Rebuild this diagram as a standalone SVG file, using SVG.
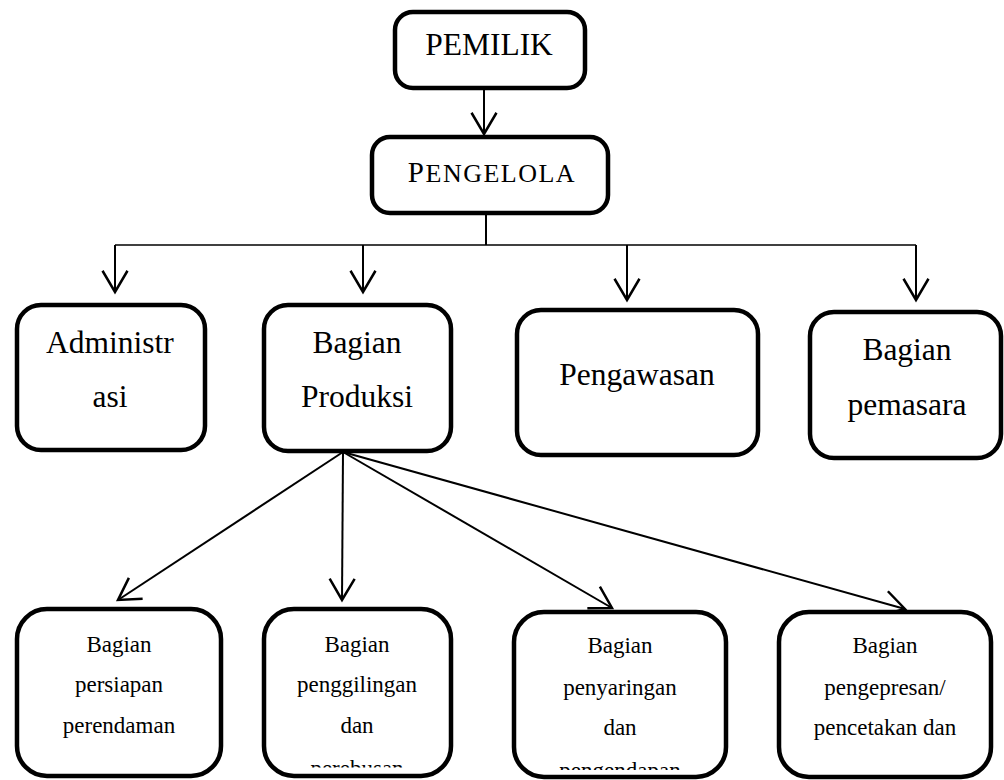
<svg xmlns="http://www.w3.org/2000/svg" width="1004" height="780" viewBox="0 0 1004 780">
<style>
.box{fill:#fff;stroke:#000;stroke-width:4.5}
.t{font-family:"Liberation Serif","Times New Roman",Times,serif;fill:#000;text-anchor:middle}
.big{font-size:31.5px}
.small{font-size:23px}
.ln{fill:none;stroke:#000;stroke-width:2}
</style>
<defs>
<marker id="arr" markerUnits="userSpaceOnUse" markerWidth="30" markerHeight="30" viewBox="-20 -12 22 24" refX="0" refY="0" orient="auto">
<path d="M-17,-10 L0,0 L-17,10" fill="none" stroke="#000" stroke-width="2"/>
</marker>
<clipPath id="c2"><rect x="264" y="609" width="187" height="158.5"/></clipPath>
<clipPath id="c3"><rect x="514" y="612" width="212" height="158"/></clipPath>
</defs>
<rect width="1004" height="780" fill="#fff"/>
<g id="connectors">
<line class="ln" x1="484" y1="90" x2="484" y2="134" marker-end="url(#arr)"/>
<polyline class="ln" points="486,215 486,245"/>
<line class="ln" x1="115" y1="245" x2="916" y2="245" style="stroke-width:1.6"/>
<line class="ln" x1="115" y1="245" x2="115" y2="292" marker-end="url(#arr)"/>
<line class="ln" x1="363" y1="245" x2="363" y2="292" marker-end="url(#arr)"/>
<line class="ln" x1="627" y1="245" x2="627" y2="300" marker-end="url(#arr)"/>
<line class="ln" x1="916" y1="245" x2="916" y2="300" marker-end="url(#arr)"/>
<line class="ln" x1="343" y1="452" x2="118" y2="600" marker-end="url(#arr)"/>
<line class="ln" x1="343" y1="452" x2="342" y2="600" marker-end="url(#arr)"/>
<line class="ln" x1="343" y1="452" x2="612" y2="608" marker-end="url(#arr)"/>
<line class="ln" x1="343" y1="452" x2="905" y2="609" marker-end="url(#arr)"/>
</g>
<g id="pemilik">
<rect class="box" x="395" y="12" width="190" height="76" rx="18"/>
<text class="t big" x="489" y="55">PEMILIK</text>
</g>
<g id="pengelola">
<rect class="box" x="372" y="137" width="236" height="76" rx="18"/>
<text class="t" x="492" y="182" style="font-size:26px;letter-spacing:1.5px"><tspan style="font-size:29px">P</tspan>ENGELOLA</text>
</g>
<g id="administrasi">
<rect class="box" x="17" y="305" width="188" height="145" rx="24"/>
<text class="t big" x="110" y="353">Administr</text>
<text class="t big" x="110" y="407">asi</text>
</g>
<g id="produksi">
<rect class="box" x="264" y="305" width="187" height="146" rx="24"/>
<text class="t big" x="357" y="353">Bagian</text>
<text class="t big" x="357" y="407">Produksi</text>
</g>
<g id="pengawasan">
<rect class="box" x="517" y="310" width="241" height="145" rx="24"/>
<text class="t big" x="637" y="385">Pengawasan</text>
</g>
<g id="pemasaran">
<rect class="box" x="810" y="312" width="191" height="146" rx="24"/>
<text class="t big" x="907" y="360">Bagian</text>
<text class="t big" x="907" y="415">pemasara</text>
</g>
<g id="persiapan">
<rect class="box" x="17" y="609" width="204" height="167" rx="30"/>
<text class="t small" x="119" y="652">Bagian</text>
<text class="t small" x="119" y="692">persiapan</text>
<text class="t small" x="119" y="733">perendaman</text>
</g>
<g id="penggilingan">
<rect class="box" x="264" y="609" width="187" height="167" rx="30"/>
<text class="t small" x="357" y="652">Bagian</text>
<text class="t small" x="357" y="692">penggilingan</text>
<text class="t small" x="357" y="733">dan</text>
<text class="t small" x="357" y="776" clip-path="url(#c2)">perebusan</text>
</g>
<g id="penyaringan">
<rect class="box" x="514" y="612" width="212" height="165" rx="30"/>
<text class="t small" x="620" y="653">Bagian</text>
<text class="t small" x="620" y="695">penyaringan</text>
<text class="t small" x="620" y="735">dan</text>
<text class="t small" x="620" y="778" clip-path="url(#c3)">pengendapan</text>
</g>
<g id="pengepresan">
<rect class="box" x="779" y="612" width="212" height="165" rx="30"/>
<text class="t small" x="885" y="653">Bagian</text>
<text class="t small" x="885" y="695">pengepresan/</text>
<text class="t small" x="885" y="735">pencetakan dan</text>
</g>
</svg>
